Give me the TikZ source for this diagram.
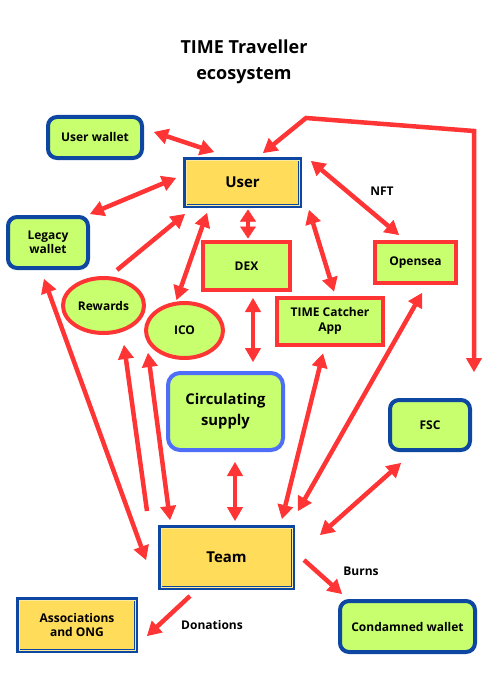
\documentclass[tikz,border=0pt]{standalone}
\usepackage{fontspec}
\setmainfont{Open Sans}
\usetikzlibrary{arrows.meta,shapes.geometric}
\definecolor{arrred}{HTML}{FF3535}
\definecolor{lime}{HTML}{C8FF6E}
\definecolor{ylw}{HTML}{FFDC5A}
\definecolor{dblue}{HTML}{0D47A1}
\definecolor{lblue}{HTML}{4F6EF7}
\tikzset{
  x=1pt, y=-1pt,
  box/.style={draw, line width=4pt, font=\bfseries\fontsize{12}{14.5}\selectfont, align=center, inner sep=0pt},
  bluebox/.style={box, draw=dblue, fill=lime, rounded corners=9pt},
  yellowbox/.style={box, draw=dblue, fill=ylw},
  redbox/.style={box, draw=arrred, fill=lime},
  redell/.style={box, ellipse, draw=arrred, fill=lime},
  lbl/.style={font=\bfseries\fontsize{12}{14}\selectfont, inner sep=0pt},
  conn/.style={draw=arrred, line width=4.5pt, line join=miter},
  tw/.style={conn, {Triangle[length=14pt,width=16pt,line width=1pt]}-{Triangle[length=14pt,width=16pt,line width=1pt]}},
  tws/.style={conn, {Triangle[length=12pt,width=16pt,line width=0.5pt]}-{Triangle[length=12pt,width=16pt,line width=0.5pt]}},
  ow/.style={conn, -{Triangle[length=14pt,width=16pt,line width=1pt]}},
}
\begin{document}
\begin{tikzpicture}
\useasboundingbox (0,0) rectangle (488,690);
% title
\node[font=\bfseries\fontsize{18}{26}\selectfont, align=center] (title) at (244,62) {TIME Traveller\\ecosystem};
% nodes
\node[bluebox, minimum width=94pt, minimum height=41pt] (uw) at (95,137.5) {User wallet};
\node[yellowbox, minimum width=115pt, minimum height=47pt, font=\bfseries\fontsize{15}{18}\selectfont] (user) at (242.5,182.5) {User};
\draw[ylw!60!white, line width=0.8pt] ([shift={(3,3)}]user.north west) rectangle ([shift={(-3,-3)}]user.south east);
\node[bluebox, minimum width=80pt, minimum height=51pt] (lw) at (48,242.5) {Legacy\\wallet};
\node[redbox, minimum width=87pt, minimum height=48pt] (dex) at (246.5,266) {DEX};
\node[redbox, minimum width=81pt, minimum height=41pt] (os) at (415.5,262.5) {Opensea};
\node[redbox, minimum width=106pt, minimum height=47pt] (tc) at (330,321) {TIME Catcher\\App};
\node[redell, minimum width=81pt, minimum height=55pt] (rw) at (103.5,305.5) {Rewards};
\node[redell, minimum width=77pt, minimum height=55pt] (ico) at (184.5,330.5) {ICO};
\node[bluebox, draw=lblue, minimum width=115pt, minimum height=77pt, font=\bfseries\fontsize{14.8}{21}\selectfont, rounded corners=12pt] (cs) at (225.5,411.5) {Circulating\\supply};
\node[bluebox, minimum width=80pt, minimum height=50pt] (fsc) at (430,425) {FSC};
\node[yellowbox, minimum width=133pt, minimum height=61pt, font=\bfseries\fontsize{15}{18}\selectfont] (team) at (226.5,557.5) {Team};
\draw[ylw!60!white, line width=0.8pt] ([shift={(3,3)}]team.north west) rectangle ([shift={(-3,-3)}]team.south east);
\node[yellowbox, minimum width=118pt, minimum height=52pt] (assoc) at (77,625) {Associations\\and ONG};
\draw[ylw!60!white, line width=0.8pt] ([shift={(3,3)}]assoc.north west) rectangle ([shift={(-3,-3)}]assoc.south east);
\node[bluebox, minimum width=135pt, minimum height=51pt] (cw) at (407.5,626.5) {Condamned wallet};
% labels
\node[lbl] (nft) at (382,191) {NFT};
\node[lbl] (burns) at (361,571) {Burns};
\node[lbl] (don) at (212,625) {Donations};
% connectors
\draw[tw] ([shift={(10,-5.5)}]uw.east) -- ([shift={(-28.5,-5)}]user.north);
\draw[tw] ([shift={(-7,-4.5)}]user.west) -- ([shift={(0,-1)}]lw.north east);
\draw[ow] ([shift={(13.5,-6)}]rw.north) -- ([shift={(2,6)}]user.south west);
\draw[tw] ([shift={(-35.5,5)}]user.south) -- ([shift={(-8,-1)}]ico.north);
\draw[tws] ([shift={(5.5,1.5)}]user.south) -- ([shift={(1.5,-1.5)}]dex.north);
\draw[tw] ([shift={(7,2)}]user.south east) -- ([shift={(4,-4)}]tc.north);
\draw[tw] ([shift={(9,4)}]user.north east) -- ([shift={(-16.5,-5)}]os.north);
\coordinate (pend) at (474,372);
\draw[tw] ([shift={(20.5,-4)}]user.north) -- (306,118) -- (474,131) -- (pend);
\draw[tw] ([shift={(6.5,6)}]dex.south) -- ([shift={(27.5,-9)}]cs.north);
\draw[tw] ([shift={(9.5,10)}]cs.south) -- ([shift={(8.5,-4)}]team.north);
\draw[tw] ([shift={(-4,9)}]lw.south) -- ([shift={(-12,2.5)}]team.west);
\draw[ow] ([shift={(-11,-14)}]team.north west) -- ([shift={(20.5,10)}]rw.south);
\draw[tw] ([shift={(-36.5,22.5)}]ico.center) -- ([shift={(12,-5)}]team.north west);
\draw[tw] ([shift={(-7,7)}]tc.south) -- ([shift={(-13,-6)}]team.north east);
\draw[tw] ([shift={(6.5,8)}]os.south) -- ([shift={(3,-14)}]team.north east);
\draw[tw] ([shift={(13,11)}]fsc.south west) -- ([shift={(25,-22.5)}]team.east);
\draw[ow] ([shift={(9,2.5)}]team.east) -- ([shift={(4,-5)}]cw.north west);
\draw[ow] ([shift={(-36.5,6)}]team.south) -- ([shift={(9,11)}]assoc.east);
\end{tikzpicture}
\end{document}
